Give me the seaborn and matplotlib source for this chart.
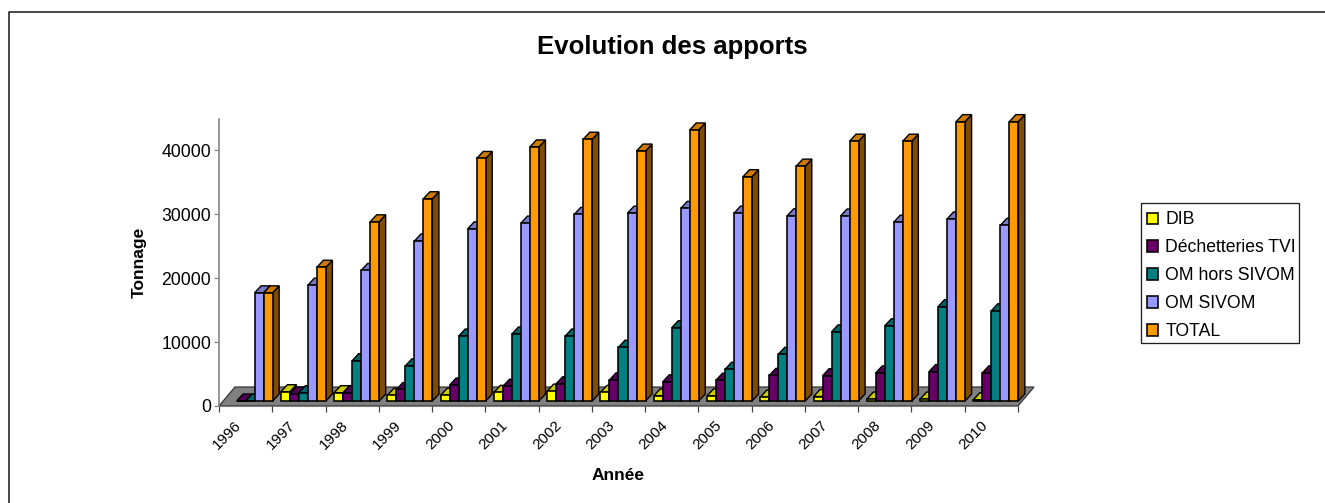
import numpy as np
import pandas as pd
import seaborn as sns
import matplotlib.pyplot as plt
from matplotlib.colors import to_rgb
from matplotlib.lines import Line2D
from matplotlib.patches import Polygon, Rectangle
from matplotlib.transforms import Affine2D, IdentityTransform

years = ["1996", "1997", "1998", "1999", "2000", "2001", "2002", "2003",
         "2004", "2005", "2006", "2007", "2008", "2009", "2010"]
dib = [np.nan, 1450, 1300, 900, 900, 1350, 1550, 1350, 800, 800, 600, 700, 300, 300, 200]
dechetteries = [0, 1100, 1300, 1800, 2500, 2300, 2700, 3300, 3000, 3250, 4000, 3950, 4400, 4600, 4400]
om_hors = [0, 1300, 6300, 5500, 10150, 10470, 10150, 8400, 11450, 4950, 7300, 10800, 11750, 14750, 14100]
om_sivom = [16900, 18100, 20400, 25000, 26900, 27800, 29150, 29350, 30100, 29350, 28950, 28900, 27950, 28450, 27450]
total = [16900, 20900, 28000, 31600, 37900, 39700, 40900, 39050, 42350, 35050, 36700, 40600, 40600, 43650, 43650]

series = {"DIB": dib, "Déchetteries TVI": dechetteries, "OM hors SIVOM": om_hors,
          "OM SIVOM": om_sivom, "TOTAL": total}
colors = ["#FFFF00", "#660066", "#008080", "#9999FF", "#FF9900"]

W, H = 1325, 503
GRAY = "#808080"
px = 72 / 100  # points per pixel at dpi 100


def shade(c, k):
    return tuple(v * k for v in to_rgb(c))


df = pd.DataFrame({"year": years, **series}).melt("year", var_name="serie", value_name="tonnes")

plt.rcParams["font.family"] = ["Liberation Sans", "DejaVu Sans"]
fig = plt.figure(figsize=(W / 100, H / 100), dpi=100)
ax = fig.add_axes([219 / W, 1 - 406 / H, (1018 - 219) / W, (406 - 119) / H])
sns.barplot(data=df, x="year", y="tonnes", hue="serie", palette=colors, width=0.845,
            gap=0, saturation=1, edgecolor="black", linewidth=1.6 * px, ax=ax, legend=True)
ax.set_xlim(-0.5, 14.5)
ax.set_ylim(0, 44844)
ax.set_facecolor("none")

# outer frame, only left and top are visible
fig.add_artist(Line2D([9 / W, 9 / W, 1], [0, 1 - 12 / H, 1 - 12 / H], transform=fig.transFigure,
                      color="#202020", linewidth=1.6 * px))

# floor of the 3d box
floor_dx, floor_dy = 16, 19
x0, y0 = ax.transAxes.transform((0, 0))
x1, _ = ax.transAxes.transform((1, 0))
ax.add_patch(Polygon([(x0, y0), (x1, y0), (x1 + floor_dx, y0 + floor_dy), (x0 + floor_dx, y0 + floor_dy)],
                     closed=True, transform=IdentityTransform(), facecolor=GRAY,
                     edgecolor="#303030", linewidth=1.2 * px, zorder=1, clip_on=False))

# fake 3d: move the bars on the floor and add top and side faces
bar_dx, bar_dy = 4.5, 5
depth_x, depth_y = 6.5, 7
shift = Affine2D().translate(bar_dx, bar_dy)
bars = [p for c in ax.containers for p in c if np.isfinite(p.get_height())]
bars = sorted(bars, key=lambda p: p.get_x())
for i, p in enumerate(bars):
    z = 3 + i * 0.01
    (l, b), (r, t) = ax.transData.transform([(p.get_x(), p.get_y()),
                                             (p.get_x() + p.get_width(), p.get_y() + p.get_height())])
    l, r, b, t = l + bar_dx, r + bar_dx, b + bar_dy, t + bar_dy
    c = p.get_facecolor()
    side = [(r, b), (r + depth_x, b + depth_y), (r + depth_x, t + depth_y), (r, t)]
    top = [(l, t), (l + depth_x, t + depth_y), (r + depth_x, t + depth_y), (r, t)]
    ax.add_patch(Polygon(side, closed=True, transform=IdentityTransform(), facecolor=shade(c, 0.5),
                         edgecolor="black", linewidth=1.4 * px, zorder=z, clip_on=False))
    ax.add_patch(Polygon(top, closed=True, transform=IdentityTransform(), facecolor=shade(c, 0.8),
                         edgecolor="black", linewidth=1.4 * px, zorder=z, clip_on=False))
    p.set_transform(ax.transData + shift)
    p.set_zorder(z + 0.001)
    p.set_clip_on(False)

sns.despine(ax=ax, top=True, right=True)
ax.spines["left"].set_color(GRAY)
ax.spines["left"].set_linewidth(1.6 * px)
ax.spines["bottom"].set_color(GRAY)
ax.spines["bottom"].set_zorder(1)

ax.set_yticks([0, 10000, 20000, 30000, 40000])
ax.tick_params(axis="y", length=5 * px, width=1.2 * px, color=GRAY, labelsize=12.7, pad=2)
ax.set_xticks(range(15))
ax.set_xticklabels(years, rotation=45, ha="right", rotation_mode="anchor", fontsize=11)
ax.tick_params(axis="x", length=0, pad=9)
for lab in ax.get_xticklabels():
    lab.set_transform(lab.get_transform() + Affine2D().translate(-11, 0))
ax.set_xticks(np.arange(16) - 0.5, minor=True)
ax.tick_params(axis="x", which="minor", length=6 * px, width=1.2 * px, color="#404040")

ax.set_xlabel("Année", fontsize=12.5, fontweight="bold")
ax.set_ylabel("Tonnage", fontsize=12.5, fontweight="bold")
ax.xaxis.set_label_coords(0.5, (406 - 475) / (406 - 119), transform=ax.transAxes)
ax.yaxis.set_label_coords((139 - 219) / (1018 - 219), 0.5, transform=ax.transAxes)
ax.xaxis.label.set_va("center")
ax.yaxis.label.set_va("center")

fig.text(672 / W, 1 - 47 / H, "Evolution des apports", fontsize=18.5, fontweight="bold", ha="center", va="center")

# legend box drawn apart, the Excel one is tighter on the right
handles, labels = ax.get_legend_handles_labels()
ax.legend(handles, labels, loc="upper left", bbox_to_anchor=(1141 / W, 1 - 205.5 / H), bbox_transform=fig.transFigure,
          fontsize=12.7, frameon=False, handlelength=0.63, handleheight=0.63, handletextpad=0.4,
          labelspacing=0.62, borderpad=0.34, borderaxespad=0, title=None)
ax.get_legend().set_zorder(10)
fig.add_artist(Rectangle((1141 / W, 1 - 343 / H), (1299 - 1141) / W, (343 - 203) / H, transform=fig.transFigure,
                         fill=False, edgecolor="#202020", linewidth=1.3 * px))

fig.savefig("out.png", dpi=100)
